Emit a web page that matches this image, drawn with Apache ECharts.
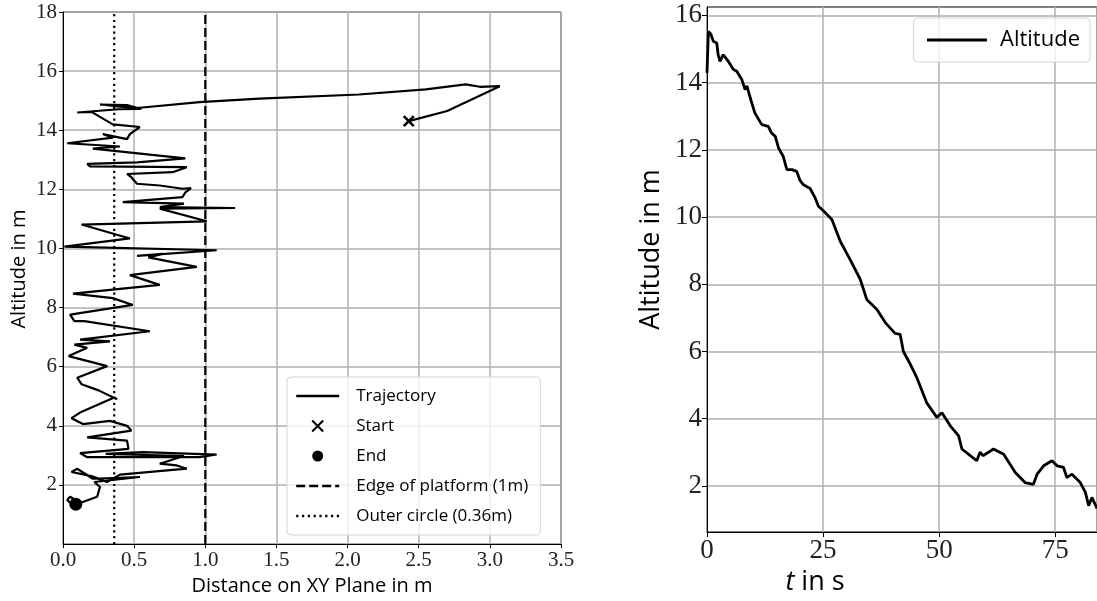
<!DOCTYPE html>
<html>
<head>
<meta charset="utf-8">
<title>Trajectory / Altitude</title>
<script src="https://cdn.jsdelivr.net/npm/echarts@6/dist/echarts.min.js"></script>
<style>
    html, body { margin: 0; padding: 0; background: #fff; }
    #main { width: 1097px; height: 601px; }
</style>
</head>
<body>
<div id="main"></div>
<script>
/* 左图：XY 平面距离 - 高度 轨迹 */
var trajectoryX = [2.43, 2.70, 3.07, 2.93, 2.83, 2.55, 2.08, 1.38, 0.96, 0.54, 0.40, 0.26, 0.45, 0.55, 0.39, 0.10,
    0.20, 0.35, 0.54, 0.47, 0.45, 0.28, 0.35, 0.03, 0.40, 0.21, 0.86, 0.52, 0.17, 0.19, 0.87, 0.77, 0.45, 0.48,
    0.52, 0.68, 0.84, 0.90, 0.86, 0.84, 0.42, 0.85, 0.68, 1.21, 0.68, 1.01, 0.13, 0.47, 0.01, 1.08, 0.52, 0.70,
    0.60, 0.94, 0.47, 0.68, 0.07, 0.35, 0.49, 0.05, 0.08, 0.15, 0.61, 0.12, 0.33, 0.08, 0.17, 0.04, 0.31, 0.10,
    0.13, 0.25, 0.38, 0.36, 0.12, 0.06, 0.14, 0.33, 0.45, 0.48, 0.17, 0.45, 0.46, 0.12, 0.17, 0.96, 1.08, 0.56,
    0.30, 0.85, 0.68, 0.80, 0.87, 0.40, 0.31, 0.20, 0.06, 0.10, 0.21, 0.54, 0.22, 0.26, 0.24, 0.12, 0.05, 0.03,
    0.07, 0.09];
var trajectoryY = [14.31, 14.65, 15.49, 15.47, 15.55, 15.38, 15.21, 15.07, 14.95, 14.76, 14.80, 14.87, 14.85, 14.72,
    14.71, 14.60, 14.62, 14.20, 14.11, 13.87, 13.70, 13.87, 13.75, 13.56, 13.45, 13.38, 13.05, 12.91, 12.86, 12.78,
    12.75, 12.58, 12.52, 12.41, 12.19, 12.13, 12.02, 12.04, 11.90, 11.74, 11.57, 11.52, 11.40, 11.37, 11.35, 10.92,
    10.81, 10.34, 10.06, 9.94, 9.75, 9.82, 9.70, 9.38, 9.10, 8.77, 8.47, 8.32, 8.09, 7.76, 7.54, 7.54, 7.20, 6.92,
    6.86, 6.75, 6.64, 6.36, 6.02, 5.63, 5.41, 5.20, 4.90, 4.96, 4.45, 4.26, 4.06, 4.17, 4.00, 3.84, 3.61, 3.50,
    3.22, 3.08, 2.94, 2.94, 3.03, 3.11, 3.05, 2.98, 2.72, 2.66, 2.55, 2.35, 2.10, 2.30, 2.44, 2.55, 2.21, 2.27,
    2.10, 1.93, 1.60, 1.39, 1.60, 1.49, 1.32, 1.35];
var startPoint = [2.43, 14.31];
var endPoint = [0.09, 1.35];
var platformEdge = 1;      // 平台边缘 (1m)
var outerCircle = 0.36;    // 外圈 (0.36m)

/* 右图：时间 - 高度 */
var timeValues = [0, 0.3, 0.8, 1.36, 2.1, 2.4, 2.8, 3.5, 4.6, 5.7, 6.4, 7.5, 8.2, 8.6, 9.3, 10.3, 11.8, 13.2, 13.9,
    14.7, 15.4, 16.4, 17.2, 18.3, 19.3, 20.0, 20.7, 22.2, 23.3, 24.0, 25.1, 26.9, 28.7, 30.8, 33.0, 34.4, 36.6,
    38.4, 40.5, 41.6, 42.3, 43.8, 45.2, 47.3, 49.5, 50.6, 52.4, 54.2, 54.9, 56.7, 58.1, 58.8, 59.5, 61.7, 63.9,
    66.4, 68.5, 70.3, 71.1, 72.5, 74.3, 75.4, 76.8, 77.5, 78.6, 80.4, 81.5, 82.2, 82.9, 84.0];
var altitudeValues = [14.29, 15.52, 15.45, 15.23, 15.18, 14.83, 14.63, 14.83, 14.63, 14.39, 14.34, 14.09, 13.79,
    13.90, 13.55, 13.10, 12.75, 12.70, 12.50, 12.40, 12.06, 11.81, 11.41, 11.41, 11.36, 11.10, 10.97, 10.85, 10.57,
    10.32, 10.18, 9.93, 9.28, 8.74, 8.15, 7.55, 7.25, 6.86, 6.54, 6.51, 6.00, 5.62, 5.22, 4.48, 4.04, 4.18, 3.79,
    3.49, 3.10, 2.90, 2.75, 3.00, 2.90, 3.10, 2.94, 2.40, 2.10, 2.05, 2.35, 2.60, 2.75, 2.60, 2.55, 2.25, 2.35,
    2.10, 1.81, 1.41, 1.66, 1.33];
var altitudeTicks = [2, 4, 6, 8, 10, 12, 14, 16];


function zip(xs, ys) {
    var out = [];
    for (var i = 0; i < xs.length; i++) {
        out.push([xs[i], ys[i]]);
    }
    return out;
}

var serifFont = '"Liberation Serif", "DejaVu Serif", serif';
var sansFont = '"Open Sans", Lato, sans-serif';
var gridLine = { show: true, lineStyle: { color: '#b0b0b0', width: 1.5 } };
var noSymbol = { opacity: 0 };   // 图例里线条不要圆点

function drawChart() {
    var myChart = echarts.init(document.getElementById('main'));
    var option = {
        animation: false,
        backgroundColor: '#fff',
        grid: [
            { left: 63, top: 12, width: 498, height: 535, show: true, borderColor: '#000', borderWidth: 1 },
            { left: 707, top: 7, width: 392, height: 525, show: true, borderColor: '#000', borderWidth: 1 }
        ],
        legend: [
            {
                left: 287, top: 377, orient: 'vertical',
                data: [
                    { name: 'Trajectory', itemStyle: noSymbol },
                    'Start',
                    'End',
                    { name: 'Edge of platform (1m)', itemStyle: noSymbol },
                    { name: 'Outer circle (0.36m)', itemStyle: noSymbol }
                ],
                itemWidth: 43, itemHeight: 11, itemGap: 10,
                padding: [9, 12, 9, 8],
                lineStyle: { width: 2.4 },
                backgroundColor: 'rgba(255,255,255,0.8)',
                borderColor: '#d6d6d6', borderWidth: 1, borderRadius: 4,
                textStyle: { fontFamily: sansFont, fontSize: 17, color: '#000', lineHeight: 20, padding: [0, 0, 0, 12] }
            },
            {
                right: 7, top: 18, orient: 'vertical',
                data: [{ name: 'Altitude', itemStyle: noSymbol }],
                itemWidth: 60, itemHeight: 12,
                padding: [8, 10, 8, 12],
                lineStyle: { width: 2.8 },
                backgroundColor: 'rgba(255,255,255,0.8)',
                borderColor: '#d6d6d6', borderWidth: 1, borderRadius: 4,
                textStyle: { fontFamily: sansFont, fontSize: 22, color: '#000', lineHeight: 28, padding: [0, 0, 0, 8] }
            }
        ],
        xAxis: [
            {
                gridIndex: 0, type: 'value', min: 0, max: 3.5, interval: 0.5,
                name: 'Distance on XY Plane in m', nameLocation: 'middle', nameGap: 24,
                nameTextStyle: { fontFamily: sansFont, fontSize: 20, color: '#000' },
                axisLine: { show: true, onZero: false, lineStyle: { color: '#000', width: 1 } },
                axisTick: { show: true, length: 4, lineStyle: { color: '#000' } },
                axisLabel: {
                    fontFamily: serifFont, fontSize: 21, color: '#222', margin: 6,
                    formatter: function (v) { return v.toFixed(1); }
                },
                splitLine: gridLine
            },
            {
                gridIndex: 1, type: 'value', min: 0, max: 84, interval: 25,
                name: '{i|t} in s', nameLocation: 'middle', nameGap: 33,
                nameTextStyle: {
                    fontFamily: sansFont, fontSize: 27, color: '#000', padding: [0, 174, 0, 0],
                    rich: { i: { fontFamily: sansFont, fontStyle: 'italic', fontSize: 27, color: '#000' } }
                },
                axisLine: { show: true, onZero: false, lineStyle: { color: '#000', width: 1 } },
                axisTick: { show: true, length: 5, lineStyle: { color: '#000' } },
                axisLabel: { fontFamily: serifFont, fontSize: 27, color: '#222', margin: 5, showMaxLabel: false },
                splitLine: gridLine
            }
        ],
        yAxis: [
            {
                gridIndex: 0, type: 'value', min: 0, max: 18, interval: 2,
                name: 'Altitude in m', nameLocation: 'middle', nameGap: 34,
                nameTextStyle: { fontFamily: sansFont, fontSize: 20, color: '#000', padding: [0, 0, 0, 18] },
                axisLine: { show: true, onZero: false, lineStyle: { color: '#000', width: 1 } },
                axisTick: { show: true, length: 4, lineStyle: { color: '#000' } },
                axisLabel: { fontFamily: serifFont, fontSize: 21, color: '#222', margin: 6, showMinLabel: false },
                splitLine: gridLine
            },
            {
                gridIndex: 1, type: 'value', min: 0.63, max: 16.25,
                name: 'Altitude in m', nameLocation: 'middle', nameGap: 42,
                nameTextStyle: { fontFamily: sansFont, fontSize: 27, color: '#000', padding: [0, 0, 0, 40] },
                axisLine: { show: true, onZero: false, lineStyle: { color: '#000', width: 1 } },
                axisTick: { show: true, length: 5, customValues: altitudeTicks, lineStyle: { color: '#000' } },
                axisLabel: { fontFamily: serifFont, fontSize: 27, color: '#222', margin: 5, customValues: altitudeTicks },
                splitLine: gridLine
            }
        ],
        series: [
            {
                name: 'Trajectory', type: 'line', xAxisIndex: 0, yAxisIndex: 0,
                data: zip(trajectoryX, trajectoryY),
                symbol: 'none', lineStyle: { color: '#000', width: 2.2 }, itemStyle: { color: '#000' }, z: 3
            },
            {
                name: 'Start', type: 'scatter', xAxisIndex: 0, yAxisIndex: 0,
                data: [startPoint],
                symbol: 'path://M0,0L10,10M0,10L10,0', symbolSize: 10, symbolKeepAspect: true,
                itemStyle: { color: 'transparent', borderColor: '#000', borderWidth: 2.6, opacity: 1 }, z: 4
            },
            {
                name: 'End', type: 'scatter', xAxisIndex: 0, yAxisIndex: 0,
                data: [endPoint],
                symbol: 'circle', symbolSize: 13,
                itemStyle: { color: '#000', opacity: 1 }, z: 4
            },
            {
                name: 'Edge of platform (1m)', type: 'line', xAxisIndex: 0, yAxisIndex: 0,
                data: [[platformEdge, 0], [platformEdge, 18]],
                symbol: 'none', lineStyle: { color: '#000', width: 2.2, type: [9, 4] }, itemStyle: { color: '#000' }
            },
            {
                name: 'Outer circle (0.36m)', type: 'line', xAxisIndex: 0, yAxisIndex: 0,
                data: [[outerCircle, 0], [outerCircle, 18]],
                symbol: 'none', lineStyle: { color: '#000', width: 2.2, type: [2.2, 3.6] }, itemStyle: { color: '#000' }
            },
            {
                name: 'Altitude', type: 'line', xAxisIndex: 1, yAxisIndex: 1,
                data: zip(timeValues, altitudeValues),
                symbol: 'none', lineStyle: { color: '#000', width: 2.8 }, itemStyle: { color: '#000' }
            }
        ]
    };
    myChart.setOption(option);
}

drawChart();
</script>
</body>
</html>
